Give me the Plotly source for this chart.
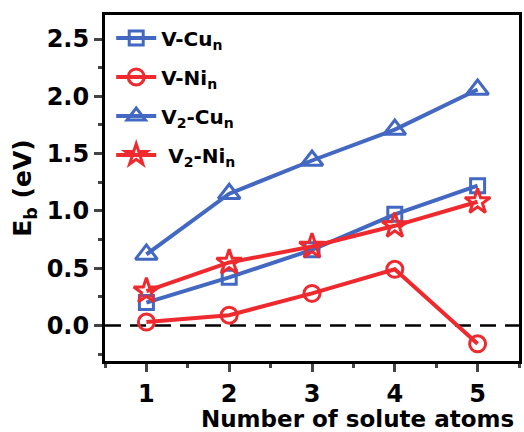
import plotly.graph_objects as go

n_atoms = [1, 2, 3, 4, 5]
v_cu = [0.20, 0.42, 0.66, 0.97, 1.22]
v_ni = [0.03, 0.09, 0.28, 0.49, -0.16]
v2_cu = [0.62, 1.15, 1.44, 1.71, 2.06]
v2_ni = [0.30, 0.55, 0.69, 0.87, 1.08]

names = ["V-Cu<sub>n</sub>", "V-Ni<sub>n</sub>", "V<sub>2</sub>-Cu<sub>n</sub>", " V<sub>2</sub>-Ni<sub>n</sub>"]
BLUE = "#4368c2"
RED = "#ee2a2e"

series = [
    (v_cu, BLUE, "square-open", 14),
    (v_ni, RED, "circle-open", 16),
    (v2_cu, BLUE, "triangle-up-open", 19),
    (v2_ni, RED, "star-open", 19),
]

FAM = "DejaVu Sans"

fig = go.Figure()
for i, (vals, col, sym, sz) in enumerate(series):
    fig.add_trace(go.Scatter(
        x=n_atoms, y=vals, mode="lines+markers", name=names[i],
        legendgroup=f"g{i}",
        line=dict(color=col, width=4),
        marker=dict(symbol=sym, size=sz, color=col, line=dict(color=col, width=3)),
    ))

fig.add_shape(type="line", xref="paper", yref="y", x0=0, x1=1, y0=0, y1=0,
              line=dict(color="black", width=2.5, dash="16px,9px"), layer="below")

fig.add_annotation(text="Number of solute atoms", xref="paper", yref="paper",
                   x=0.61, y=-0.168, xanchor="center", yanchor="middle",
                   showarrow=False, font=dict(size=23, family=FAM, weight="bold"))

fig.update_layout(
    width=524, height=432,
    margin=dict(l=105, r=2, t=15, b=71),
    plot_bgcolor="white", paper_bgcolor="white",
    font=dict(family=FAM, size=24, color="black", weight="bold"),
    showlegend=True,
    legend=dict(x=0.015, y=0.99, xanchor="left", yanchor="top",
                bgcolor="rgba(0,0,0,0)", font=dict(size=20, family=FAM, weight="bold"),
                tracegroupgap=10, itemwidth=40),
    xaxis=dict(range=[0.5, 5.5], tickvals=n_atoms, ticks="outside", ticklen=8, tickwidth=3,
               tickfont=dict(size=24), ticklabelstandoff=1,
               minor=dict(dtick=0.5, ticks="outside", ticklen=4, tickwidth=3, tick0=0.5),
               showline=True, linecolor="black", linewidth=3, mirror=True,
               showgrid=False, zeroline=False),
    yaxis=dict(range=[-0.31, 2.71], tickvals=[0.0, 0.5, 1.0, 1.5, 2.0, 2.5], tickformat=".1f",
               ticks="outside", ticklen=8, tickwidth=3, tickfont=dict(size=24),
               minor=dict(dtick=0.25, ticks="outside", ticklen=4, tickwidth=3),
               showline=True, linecolor="black", linewidth=3, mirror=True,
               showgrid=False, zeroline=False,
               title=dict(text="E<sub>b</sub> (eV)", font=dict(size=25), standoff=8)),
)

fig.write_html("out.html", config={"displayModeBar": False},
               post_script="document.body.style.margin='0px';document.body.style.overflow='hidden';")
